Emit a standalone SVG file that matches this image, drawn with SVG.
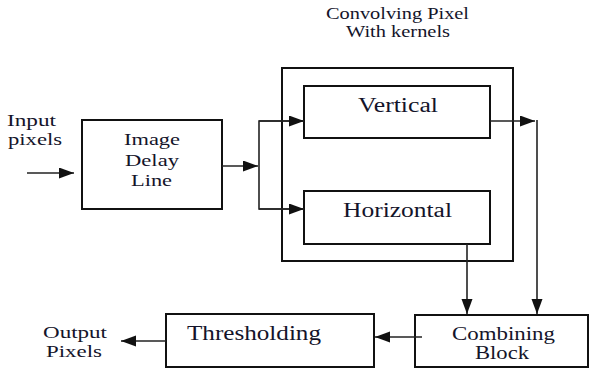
<svg xmlns="http://www.w3.org/2000/svg" width="589" height="368" viewBox="0 0 589 368">
  <style>
    .box { fill: #ffffff; stroke: #111111; stroke-width: 2; }
    .wire { fill: none; stroke: #222222; stroke-width: 1.6; }
    .lbl { font-family: 'Liberation Serif', 'Times New Roman', Times, serif; fill: #14142a; }
    .sm { font-size: 17px; }
    .md { font-size: 19px; }
    .lg { font-size: 20px; }
  </style>
  <defs>
    <marker id="arrow" markerUnits="userSpaceOnUse" markerWidth="16" markerHeight="12" refX="15" refY="5.5" orient="auto">
      <path d="M0,0 L15,5.5 L0,11 z" fill="#111111"/>
    </marker>
  </defs>

  <rect width="589" height="368" fill="#ffffff"/>

  <!-- free-standing labels -->
  <g id="input-label">
    <text class="lbl sm" font-family="Liberation Serif, serif" x="7" y="126" textLength="49" lengthAdjust="spacingAndGlyphs">Input</text>
    <text class="lbl sm" font-family="Liberation Serif, serif" x="8" y="145" textLength="54" lengthAdjust="spacingAndGlyphs">pixels</text>
  </g>
  <g id="output-label">
    <text class="lbl sm" x="43" y="338" textLength="64" lengthAdjust="spacingAndGlyphs">Output</text>
    <text class="lbl sm" x="46" y="357" textLength="56" lengthAdjust="spacingAndGlyphs">Pixels</text>
  </g>
  <g id="conv-title">
    <text class="lbl sm" x="326" y="19" textLength="143" lengthAdjust="spacingAndGlyphs">Convolving Pixel</text>
    <text class="lbl sm" x="346" y="37" textLength="104" lengthAdjust="spacingAndGlyphs">With kernels</text>
  </g>

  <!-- nodes -->
  <g id="delay-line">
    <rect class="box" x="82" y="120" width="140" height="89"/>
    <text class="lbl sm" x="124" y="145" textLength="56" lengthAdjust="spacingAndGlyphs">Image</text>
    <text class="lbl sm" x="125" y="166" textLength="54" lengthAdjust="spacingAndGlyphs">Delay</text>
    <text class="lbl sm" x="131" y="186" textLength="41" lengthAdjust="spacingAndGlyphs">Line</text>
  </g>

  <g id="convolution">
    <rect class="box" x="282" y="68" width="231" height="193"/>
  </g>

  <g id="vertical">
    <rect class="box" x="304" y="86" width="186" height="52"/>
    <text class="lbl lg" x="358" y="112" textLength="80" lengthAdjust="spacingAndGlyphs">Vertical</text>
  </g>

  <g id="horizontal">
    <rect class="box" x="304" y="191" width="186" height="53"/>
    <text class="lbl lg" x="343" y="217" textLength="109" lengthAdjust="spacingAndGlyphs">Horizontal</text>
  </g>

  <g id="combining">
    <rect class="box" x="415" y="315" width="173" height="52"/>
    <text class="lbl md" x="452" y="340" textLength="103" lengthAdjust="spacingAndGlyphs">Combining</text>
    <text class="lbl md" x="475" y="359" textLength="54" lengthAdjust="spacingAndGlyphs">Block</text>
  </g>

  <g id="thresholding">
    <rect class="box" x="166" y="314" width="208" height="53"/>
    <text class="lbl lg" x="187" y="340" textLength="134" lengthAdjust="spacingAndGlyphs">Thresholding</text>
  </g>

  <!-- connectors -->
  <g id="connectors">
    <line class="wire" x1="27" y1="173" x2="74" y2="173" marker-end="url(#arrow)"/>
    <line class="wire" x1="222" y1="166" x2="258" y2="166" marker-end="url(#arrow)"/>
    <polyline class="wire" points="304,121 259,121 259,209 304,209"/>
    <line class="wire" x1="259" y1="121" x2="304" y2="121" marker-end="url(#arrow)"/>
    <line class="wire" x1="259" y1="209" x2="304" y2="209" marker-end="url(#arrow)"/>
    <line class="wire" x1="490" y1="121" x2="535" y2="121" marker-end="url(#arrow)"/>
    <line class="wire" x1="537" y1="120" x2="537" y2="314" marker-end="url(#arrow)"/>
    <line class="wire" x1="467" y1="244" x2="467" y2="314" marker-end="url(#arrow)"/>
    <line class="wire" x1="422" y1="337" x2="375" y2="337" marker-end="url(#arrow)"/>
    <line class="wire" x1="166" y1="341" x2="121" y2="341" marker-end="url(#arrow)"/>
  </g>
</svg>
